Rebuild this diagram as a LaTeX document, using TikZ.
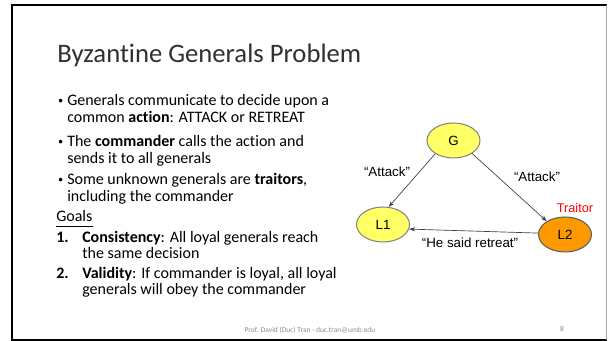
\documentclass[tikz,border=0pt]{standalone}
\usepackage{fontspec}
\setmainfont{Carlito}[Ligatures={NoCommon,NoRare}]
\newfontfamily\arialfont{Liberation Sans}
\usetikzlibrary{arrows.meta,shapes.geometric}
\definecolor{genyellow}{HTML}{FFFF66}
\definecolor{traitororange}{HTML}{FF9900}
\definecolor{rimgray}{HTML}{808080}
\definecolor{footgray}{HTML}{8C8C8C}
\definecolor{titlegray}{HTML}{303030}
\definecolor{traitorred}{HTML}{FF0000}

\begin{document}
\begin{tikzpicture}[x=0.75pt,y=-0.75pt,
  general/.style={ellipse, draw=rimgray, line width=0.75pt,
    minimum width=39.75pt, minimum height=26.25pt, inner sep=0pt,
    font=\arialfont\fontsize{10}{12}\selectfont},
  msg/.style={inner sep=0pt, font=\arialfont\fontsize{10}{12}\selectfont},
  link/.style={draw=black!75, line width=0.5pt, -{Stealth[length=4.5pt,width=3.2pt]}},
  body/.style={anchor=base west, inner sep=0pt, font=\fontsize{12}{12.75}\selectfont},
  bulletmark/.style={anchor=base west, inner sep=0pt, font=\arialfont\fontsize{10}{12}\selectfont},
  foot/.style={inner sep=0pt, text=footgray, font=\fontsize{5.6}{6.7}\selectfont}]

\useasboundingbox (0,0) rectangle (608,341);
\fill[white] (0,0) rectangle (608,341);

% slide frame
\draw[black, line width=1.5pt] (606.5,5) -- (12,5) -- (12,340.2) -- (606.5,340.2);
\draw[gray!70, line width=0.6pt] (606.5,5) -- (606.5,340.2);

% title
\node[anchor=base west, inner sep=0pt, text=titlegray, font=\fontsize{20}{24}\selectfont]
  (title) at (57,63) {Byzantine Generals Problem};

% bullet list
\node[bulletmark] (m1) at (58,106) {•};
\node[body] (t1a) at (67,106) {Generals communicate to decide upon a};
\node[body] (t1b) at (67,123) {common \textbf{action}: ATTACK or RETREAT};
\node[bulletmark] (m2) at (58,147) {•};
\node[body] (t2a) at (67,147) {The \textbf{commander} calls the action and};
\node[body] (t2b) at (67,164) {sends it to all generals};
\node[bulletmark] (m3) at (58,185) {•};
\node[body] (t3a) at (67,185) {Some unknown generals are \textbf{traitors},};
\node[body] (t3b) at (67,201.5) {including the commander};

% goals
\node[body] (goals) at (56,222) {Goals};
\draw[line width=1pt] ([yshift=-3.6pt]goals.base west) -- ([yshift=-3.6pt]goals.base east);
\node[body] (n1) at (56,242.5) {\textbf{1.}};
\node[body] (g1a) at (82,242.5) {\textbf{Consistency}: All loyal generals reach};
\node[body] (g1b) at (82,259) {the same decision};
\node[body] (n2) at (56,278.5) {\textbf{2.}};
\node[body] (g2a) at (82,278.5) {\textbf{Validity}: If commander is loyal, all loyal};
\node[body] (g2b) at (82,295) {generals will obey the commander};

% generals
\node[general, fill=genyellow] (G) at (453.5,140.5) {G};
\node[general, fill=genyellow] (L1) at (383,224.5) {L1};
\node[general, fill=traitororange, draw=black!65] (L2) at (565,234.5) {L2};
\node[msg, text=traitorred, font=\arialfont\fontsize{9.5}{11}\selectfont] (tr) at (575,208) {Traitor};

% messages
\draw[link] (G.216) -- (L1.72);
\draw[link] (G.-35) -- (L2.144);
\draw[link] (L2.177) -- (L1.-10);
\node[msg] (ma) at (387,172) {“Attack”};
\node[msg] (mb) at (537,177) {“Attack”};
\node[msg] (mc) at (470,243) {“He said retreat”};

% footer
\node[foot] (credit) at (310,330) {Prof. David (Duc) Tran - duc.tran@umb.edu};
\node[foot] (page) at (562,329) {8};
\end{tikzpicture}
\end{document}
